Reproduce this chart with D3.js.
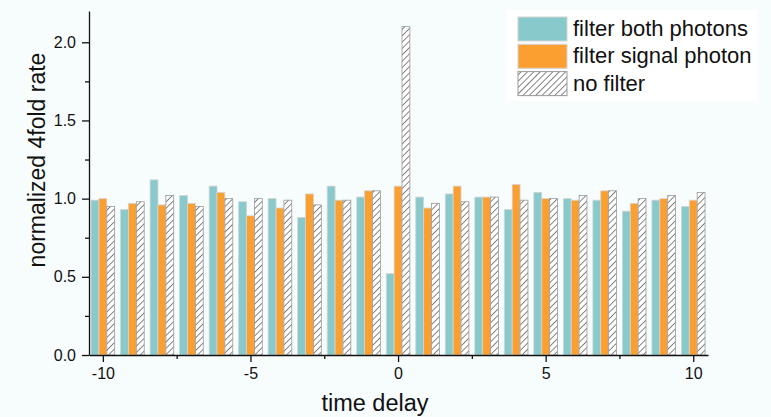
<!DOCTYPE html>
<html>
<head>
<meta charset="utf-8">
<script src="https://cdn.jsdelivr.net/npm/d3@7"></script>
<style>
  body { margin: 0; background: #f7fcfd; }
  svg { display: block; font-family: "Liberation Sans", Arial, sans-serif; }
  .axis text { font-size: 16px; fill: #111; font-family: "Liberation Sans", Arial, sans-serif; }
  .axis path, .axis line { stroke: #111; stroke-width: 1.3px; }
</style>
</head>
<body>
<div id="chart"></div>
<script>
// time delay bins
const delays = [-10, -9, -8, -7, -6, -5, -4, -3, -2, -1, 0, 1, 2, 3, 4, 5, 6, 7, 8, 9, 10];

// normalized 4fold rate
const filterBoth = [0.99, 0.93, 1.12, 1.02, 1.08, 0.98, 1.00, 0.88, 1.08, 1.01, 0.52,
  1.01, 1.03, 1.01, 0.93, 1.04, 1.00, 0.99, 0.92, 0.99, 0.95];
const filterSignal = [1.00, 0.97, 0.96, 0.97, 1.04, 0.89, 0.94, 1.03, 0.99, 1.05, 1.08,
  0.94, 1.08, 1.01, 1.09, 1.00, 0.99, 1.05, 0.97, 1.00, 0.99];
const noFilter = [0.95, 0.98, 1.02, 0.95, 1.00, 1.00, 0.99, 0.96, 0.99, 1.05, 2.10,
  0.97, 0.98, 1.01, 0.99, 1.00, 1.02, 1.05, 1.00, 1.02, 1.04];

const seriesNames = ['filter both photons', 'filter signal photon', 'no filter'];
const yTicks = [0, 0.5, 1.0, 1.5, 2.0];
const xTicks = [-10, -5, 0, 5, 10];

class DelayBarChart {
  constructor(_config) {
    this.config = {
      parentElement: _config.parentElement,
      containerWidth: 771,
      containerHeight: 417,
      margin: {
        top: 11, right: 63, bottom: 62, left: 89,
      },
    };
    this.initVis();
  }

  initVis() {
    const vis = this;

    vis.width = vis.config.containerWidth - vis.config.margin.left - vis.config.margin.right;
    vis.height = vis.config.containerHeight - vis.config.margin.top - vis.config.margin.bottom;

    vis.svg = d3.select(vis.config.parentElement).append('svg')
      .attr('width', vis.config.containerWidth)
      .attr('height', vis.config.containerHeight);

    // hatch pattern for the unfiltered series
    const pattern = vis.svg.append('defs').append('pattern')
      .attr('id', 'hatch')
      .attr('patternUnits', 'userSpaceOnUse')
      .attr('width', 4.5)
      .attr('height', 4.5)
      .attr('patternTransform', 'rotate(45)');
    pattern.append('rect').attr('width', 4.5).attr('height', 4.5).attr('fill', '#fff');
    pattern.append('line')
      .attr('x1', 0).attr('y1', 0).attr('x2', 0).attr('y2', 4.5)
      .attr('stroke', '#222').attr('stroke-width', 1.1);

    vis.chart = vis.svg.append('g')
      .attr('transform', `translate(${vis.config.margin.left},${vis.config.margin.top})`);

    vis.xScale = d3.scaleLinear()
      .domain([-10.47, 10.5])
      .range([0, vis.width]);

    vis.yScale = d3.scaleLinear()
      .domain([0, 2.2])
      .range([vis.height, 0]);

    vis.colors = ['#88c9cb', '#fb9f30', 'url(#hatch)'];

    vis.barsG = vis.chart.append('g');
    vis.xAxisG = vis.chart.append('g')
      .attr('class', 'axis x-axis')
      .attr('transform', `translate(0,${vis.height})`);
    vis.yAxisG = vis.chart.append('g')
      .attr('class', 'axis y-axis');

    vis.updateVis();
  }

  updateVis() {
    const vis = this;
    const all = [filterBoth, filterSignal, noFilter];
    vis.data = [];
    all.forEach((arr, s) => {
      arr.forEach((v, i) => vis.data.push({ delay: delays[i], value: v, series: s }));
    });
    // group of three bars spans 0.8 time units
    vis.barW = (vis.xScale(0.8) - vis.xScale(0)) / 3;
    vis.renderVis();
  }

  renderVis() {
    const vis = this;

    vis.barsG.selectAll('.bar')
      .data(vis.data)
      .join('rect')
      .attr('class', 'bar')
      .attr('x', (d) => vis.xScale(d.delay) + (d.series - 1.5) * vis.barW)
      .attr('width', vis.barW)
      .attr('y', (d) => vis.yScale(d.value))
      .attr('height', (d) => vis.yScale(0) - vis.yScale(d.value))
      .attr('fill', (d) => vis.colors[d.series])
      .attr('stroke', (d) => (d.series === 2 ? '#999' : '#d4d4d4'))
      .attr('stroke-width', 0.8);

    // minor ticks, then major ticks with the axis line
    vis.xAxisG.append('g')
      .call(d3.axisBottom(vis.xScale).tickValues([-7.5, -2.5, 2.5, 7.5]).tickSize(4).tickFormat(''))
      .call((g) => g.select('.domain').remove());
    vis.xAxisG.append('g')
      .call(d3.axisBottom(vis.xScale).tickValues(xTicks).tickSizeInner(7).tickSizeOuter(0)
        .tickPadding(6).tickFormat((d) => String(d)));

    vis.yAxisG.append('g')
      .call(d3.axisLeft(vis.yScale).tickValues([0.25, 0.75, 1.25, 1.75]).tickSize(4).tickFormat(''))
      .call((g) => g.select('.domain').remove());
    vis.yAxisG.append('g')
      .call(d3.axisLeft(vis.yScale).tickValues(yTicks).tickSizeInner(7).tickSizeOuter(0)
        .tickPadding(6).tickFormat(d3.format('.1f')));

    // axis titles
    vis.svg.append('text')
      .attr('x', 375)
      .attr('y', 411)
      .attr('text-anchor', 'middle')
      .attr('font-size', 23.5)
      .attr('fill', '#111')
      .text('time delay');

    vis.svg.append('text')
      .attr('transform', 'translate(45,160) rotate(-90)')
      .attr('text-anchor', 'middle')
      .attr('font-size', 23)
      .attr('fill', '#111')
      .text('normalized 4fold rate');

    // legend
    const legend = vis.svg.append('g').attr('transform', 'translate(518,17)');
    legend.append('rect')
      .attr('x', -11).attr('y', -7).attr('width', 250).attr('height', 91)
      .attr('fill', '#fff');
    seriesNames.forEach((name, i) => {
      legend.append('rect')
        .attr('x', 0).attr('y', i * 27.3)
        .attr('width', 49).attr('height', 24)
        .attr('fill', vis.colors[i])
        .attr('stroke', i === 2 ? '#999' : '#d4d4d4');
      legend.append('text')
        .attr('x', 55).attr('y', i * 27.3 + 19)
        .attr('font-size', 22)
        .attr('fill', '#111')
        .text(name);
    });
  }
}

new DelayBarChart({ parentElement: '#chart' });
</script>
</body>
</html>
